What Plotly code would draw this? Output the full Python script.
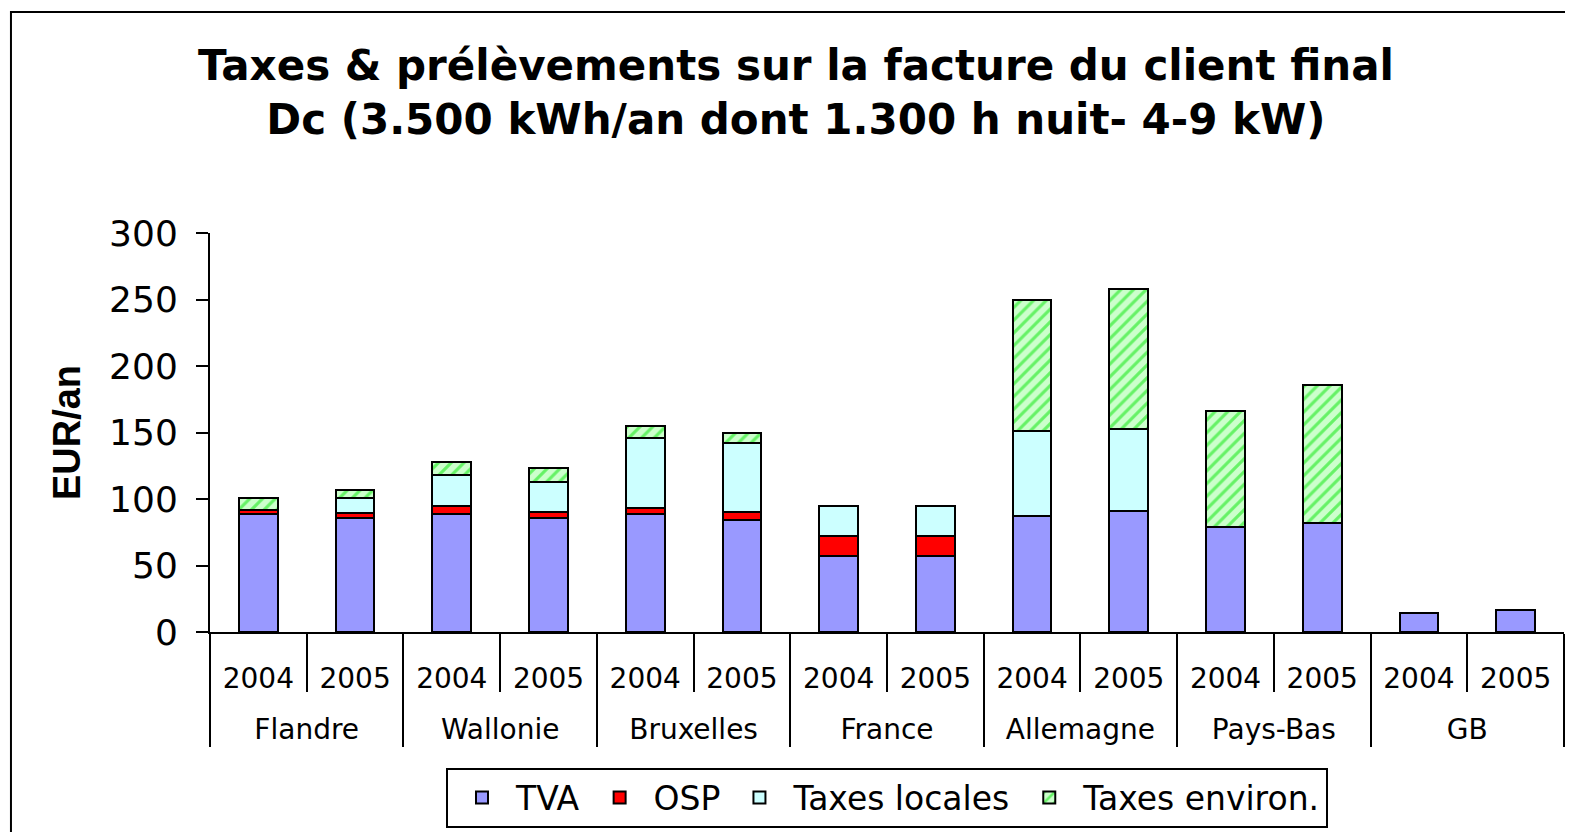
import plotly.graph_objects as go

regions = ["Flandre", "Wallonie", "Bruxelles", "France", "Allemagne", "Pays-Bas", "GB"]
years = ["2004", "2005"]

# EUR/an, one value per (region, year)
tva = [89, 86, 89, 86, 89, 84, 57, 57, 87, 91, 79, 82, 14.6, 16.3]
osp = [3, 3.5, 6, 4, 4, 6, 15, 15, 0, 0, 0, 0, 0, 0]
taxes_locales = [0, 11, 23, 23, 53, 52, 23, 23, 64, 62, 0, 0, 0, 0]
taxes_environ = [9, 6.5, 10, 10.5, 9, 8, 0, 0, 99, 105, 87, 104, 0, 0]

# outer level pushed one line down so it sits below the year labels
x_outer = ["<br>" + r for r in regions for _ in years]
x_inner = [y for _ in regions for y in years]

series = [
    ("TVA", tva, "#9999ff", None),
    ("OSP", osp, "#ff0000", None),
    ("Taxes locales", taxes_locales, "#ccffff", None),
    ("Taxes environ.", taxes_environ, "#ccffcc",
     dict(shape="/", fgcolor="#00e600", bgcolor="#ccffcc", size=9, solidity=0.35)),
]

fig = go.Figure()
for name, values, color, pattern in series:
    marker = dict(color=color, line=dict(color="black", width=2))
    if pattern:
        marker["pattern"] = pattern
    fig.add_trace(go.Bar(x=[x_outer, x_inner], y=values, name=name, marker=marker))

# outer frame of the chart
fig.add_shape(type="rect", xref="paper", yref="paper",
              x0=-0.147, x1=1.02, y0=-0.6, y1=1.554,
              line=dict(color="black", width=2))

fig.update_layout(
    width=1565, height=824,
    barmode="stack", bargap=0.6,
    paper_bgcolor="white", plot_bgcolor="white",
    margin=dict(l=202, r=9, t=225, b=200, autoexpand=False),
    font=dict(family="DejaVu Sans, Liberation Sans, sans-serif", color="black"),
    title=dict(
        text="Taxes & prélèvements sur la facture du client final<br>Dc (3.500 kWh/an dont 1.300 h nuit- 4-9 kW)",
        x=0.5035, xanchor="center", y=0.913, yanchor="top",
        font=dict(size=42, family="DejaVu Sans, Liberation Sans", weight="bold"),
    ),
    legend=dict(
        orientation="h", x=0.5, xanchor="center", y=-0.49, yanchor="bottom",
        bordercolor="black", borderwidth=2,
        font=dict(size=33, family="DejaVu Sans, Liberation Sans"),
        itemwidth=58, traceorder="normal",
    ),
    showlegend=True,
)
fig.update_yaxes(
    range=[0, 300], dtick=50, showgrid=False,
    showline=True, linecolor="black", linewidth=2,
    ticks="outside", ticklen=12, tickcolor="black", tickwidth=2,
    ticklabelstandoff=11,
    tickfont=dict(size=36, family="DejaVu Sans"),
    title=dict(text="<b>EUR/an</b>", font=dict(size=38, family="Liberation Sans, Arial"), standoff=17),
)
fig.update_xaxes(
    type="multicategory", showgrid=False,
    showline=True, linecolor="black", linewidth=2,
    ticks="outside", ticklen=58, tickcolor="black", tickwidth=2,
    showdividers=True, dividercolor="black", dividerwidth=2,
    ticklabelstandoff=20,
    tickfont=dict(size=28, family="DejaVu Sans"),
)

fig.write_html("out.html")
